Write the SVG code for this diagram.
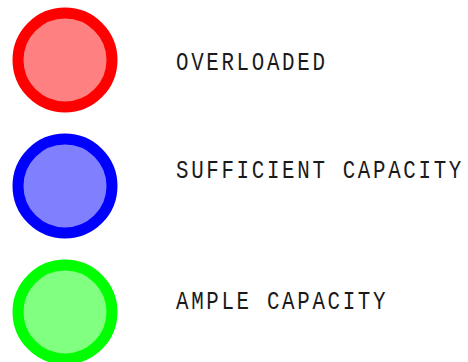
<svg xmlns="http://www.w3.org/2000/svg" width="468" height="362" viewBox="0 0 468 362">
<style>
.lbl{font-family:"Liberation Mono","DejaVu Sans Mono",monospace;font-size:26px;fill:#1a1a1a;letter-spacing:3.35px}
.c{stroke-width:11}
</style>
<rect width="468" height="362" fill="#fff"/>
<g id="overloaded">
<circle class="c" cx="65" cy="60" r="47" fill="#ff8080" stroke="#ff0000"/>
<text class="lbl" transform="translate(176,70) scale(0.8,1)">OVERLOADED</text>
</g>
<g id="sufficient">
<circle class="c" cx="65" cy="186" r="47" fill="#8080ff" stroke="#0000ff"/>
<text class="lbl" transform="translate(176,178) scale(0.8,1)">SUFFICIENT CAPACITY</text>
</g>
<g id="ample">
<circle class="c" cx="65" cy="312" r="47" fill="#80ff80" stroke="#00ff00"/>
<text class="lbl" transform="translate(176,309) scale(0.8,1)">AMPLE CAPACITY</text>
</g>
<g id="connectors"/>
</svg>
